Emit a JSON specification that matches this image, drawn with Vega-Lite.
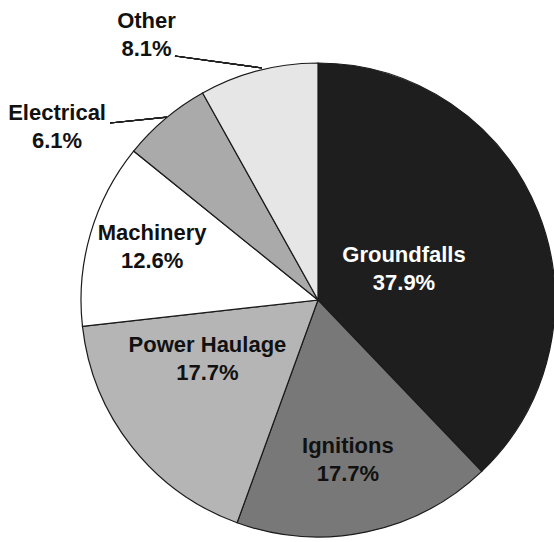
{
  "$schema": "https://vega.github.io/schema/vega-lite/v6.json",
  "width": 472,
  "height": 484,
  "autosize": {"type": "none"},
  "padding": {"left": 82, "top": 58, "right": 0, "bottom": 0},
  "background": "white",
  "config": {"view": {"stroke": null}},
  "data": {
    "values": [
      {"category": "Groundfalls", "share": 0.379, "order": 1},
      {"category": "Ignitions", "share": 0.177, "order": 2},
      {"category": "Power Haulage", "share": 0.177, "order": 3},
      {"category": "Machinery", "share": 0.126, "order": 4},
      {"category": "Electrical", "share": 0.061, "order": 5},
      {"category": "Other", "share": 0.081, "order": 6}
    ]
  },
  "layer": [
    {
      "mark": {"type": "arc", "outerRadius": 237, "stroke": "#1a1a1a", "strokeWidth": 1.2},
      "encoding": {
        "theta": {"field": "share", "type": "quantitative", "stack": true},
        "order": {"field": "order", "type": "quantitative"},
        "color": {
          "field": "category",
          "type": "nominal",
          "legend": null,
          "scale": {
            "domain": ["Groundfalls", "Ignitions", "Power Haulage", "Machinery", "Electrical", "Other"],
            "range": ["#1e1e1e", "#787878", "#b5b5b5", "#ffffff", "#aaaaaa", "#e6e6e6"]
          }
        }
      }
    },
    {
      "mark": {"type": "text", "font": "Liberation Sans", "fontWeight": "bold", "fontSize": 22, "dy": -14, "align": "center", "baseline": "middle"},
      "encoding": {
        "theta": {"field": "order", "type": "quantitative", "scale": {"type": "linear", "zero": false, "nice": false, "domain": [1, 2, 3, 4, 5, 6], "range": [1.225, 2.957, 4.222, 5.019, 5.297, 5.709]}},
        "radius": {"field": "order", "type": "quantitative", "scale": {"type": "linear", "zero": false, "nice": false, "domain": [1, 2, 3, 4, 5, 6], "range": [91.4, 162.8, 125.3, 174, 312.9, 315.7]}},
        "text": {"field": "category", "type": "nominal"},
        "color": {"condition": {"test": "datum.order === 1", "value": "#ffffff"}, "value": "#111111"}
      }
    },
    {
      "mark": {"type": "text", "font": "Liberation Sans", "fontWeight": "bold", "fontSize": 22, "dy": 14, "align": "center", "baseline": "middle"},
      "encoding": {
        "theta": {"field": "order", "type": "quantitative", "scale": {"type": "linear", "zero": false, "nice": false, "domain": [1, 2, 3, 4, 5, 6], "range": [1.225, 2.957, 4.222, 5.019, 5.297, 5.709]}},
        "radius": {"field": "order", "type": "quantitative", "scale": {"type": "linear", "zero": false, "nice": false, "domain": [1, 2, 3, 4, 5, 6], "range": [91.4, 162.8, 125.3, 174, 312.9, 315.7]}},
        "text": {"field": "share", "type": "quantitative", "format": ".1%"},
        "color": {"condition": {"test": "datum.order === 1", "value": "#ffffff"}, "value": "#111111"}
      }
    },
    {
      "mark": {"type": "rule", "color": "#222222", "strokeWidth": 1.2},
      "encoding": {
        "x": {"datum": -0.606, "type": "quantitative", "scale": {"domain": [-1, 1], "zero": false, "nice": false}, "axis": null},
        "y": {"datum": 1.034, "type": "quantitative", "scale": {"domain": [-1.0254, 1.0254], "zero": false, "nice": false}, "axis": null},
        "x2": {"datum": -0.2373},
        "y2": {"datum": 0.983}
      }
    },
    {
      "mark": {"type": "rule", "color": "#222222", "strokeWidth": 1.2},
      "encoding": {
        "x": {"datum": -0.881, "type": "quantitative", "scale": {"domain": [-1, 1], "zero": false, "nice": false}, "axis": null},
        "y": {"datum": 0.75, "type": "quantitative", "scale": {"domain": [-1.0254, 1.0254], "zero": false, "nice": false}, "axis": null},
        "x2": {"datum": -0.64},
        "y2": {"datum": 0.775}
      }
    }
  ],
  "resolve": {"scale": {"theta": "independent", "radius": "independent"}}
}
